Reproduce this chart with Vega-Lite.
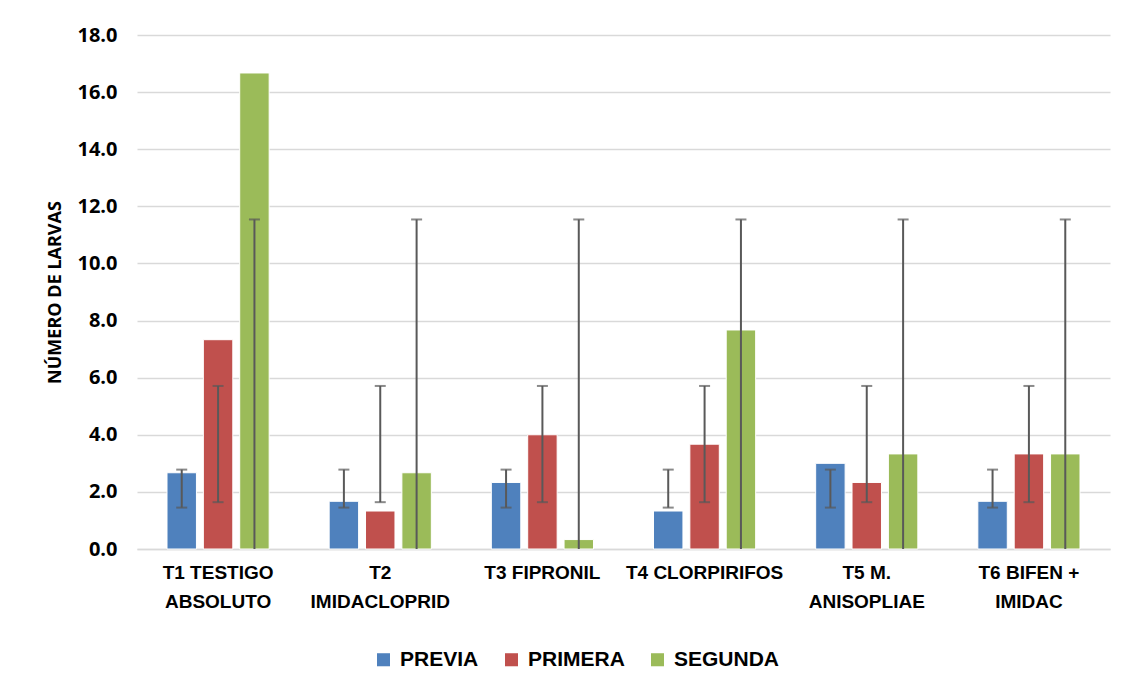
{
  "$schema": "https://vega.github.io/schema/vega-lite/v6.json",
  "width": 973,
  "height": 514,
  "autosize": "none",
  "padding": {"left": 137, "top": 35, "right": 31, "bottom": 141},
  "background": "white",
  "config": {"view": {"stroke": null}},
  "data": {
    "values": [
      {"trat": "T1  TESTIGO ABSOLUTO", "serie": "PREVIA", "valor": 2.67, "lo": 1.45, "hi": 2.78},
      {"trat": "T1  TESTIGO ABSOLUTO", "serie": "PRIMERA", "valor": 7.33, "lo": 1.64, "hi": 5.71},
      {"trat": "T1  TESTIGO ABSOLUTO", "serie": "SEGUNDA", "valor": 16.67, "lo": 0, "hi": 11.54},
      {"trat": "T2 IMIDACLOPRID", "serie": "PREVIA", "valor": 1.67, "lo": 1.45, "hi": 2.78},
      {"trat": "T2 IMIDACLOPRID", "serie": "PRIMERA", "valor": 1.33, "lo": 1.64, "hi": 5.71},
      {"trat": "T2 IMIDACLOPRID", "serie": "SEGUNDA", "valor": 2.67, "lo": 0, "hi": 11.54},
      {"trat": "T3 FIPRONIL", "serie": "PREVIA", "valor": 2.33, "lo": 1.45, "hi": 2.78},
      {"trat": "T3 FIPRONIL", "serie": "PRIMERA", "valor": 4.0, "lo": 1.64, "hi": 5.71},
      {"trat": "T3 FIPRONIL", "serie": "SEGUNDA", "valor": 0.33, "lo": 0, "hi": 11.54},
      {"trat": "T4 CLORPIRIFOS", "serie": "PREVIA", "valor": 1.33, "lo": 1.45, "hi": 2.78},
      {"trat": "T4 CLORPIRIFOS", "serie": "PRIMERA", "valor": 3.67, "lo": 1.64, "hi": 5.71},
      {"trat": "T4 CLORPIRIFOS", "serie": "SEGUNDA", "valor": 7.67, "lo": 0, "hi": 11.54},
      {"trat": "T5 M. ANISOPLIAE", "serie": "PREVIA", "valor": 3.0, "lo": 1.45, "hi": 2.78},
      {"trat": "T5 M. ANISOPLIAE", "serie": "PRIMERA", "valor": 2.33, "lo": 1.64, "hi": 5.71},
      {"trat": "T5 M. ANISOPLIAE", "serie": "SEGUNDA", "valor": 3.33, "lo": 0, "hi": 11.54},
      {"trat": "T6 BIFEN + IMIDAC", "serie": "PREVIA", "valor": 1.67, "lo": 1.45, "hi": 2.78},
      {"trat": "T6 BIFEN + IMIDAC", "serie": "PRIMERA", "valor": 3.33, "lo": 1.64, "hi": 5.71},
      {"trat": "T6 BIFEN + IMIDAC", "serie": "SEGUNDA", "valor": 3.33, "lo": 0, "hi": 11.54}
    ]
  },
  "encoding": {
    "x": {
      "field": "trat",
      "type": "nominal",
      "sort": null,
      "scale": {"paddingInner": 0.37, "paddingOuter": 0.185},
      "axis": {
        "title": null,
        "labelAngle": 0,
        "labelFont": "Liberation Sans Narrow, Liberation Sans",
        "labelFontSize": 19,
        "labelFontWeight": "bold",
        "labelColor": "#000000",
        "labelPadding": 14,
        "labelLineHeight": 29,
        "labelBaseline": "top",
        "ticks": false,
        "domainColor": "#d9d9d9",
        "domainWidth": 1.5,
        "grid": false,
        "labelExpr": "datum.value == 'T1  TESTIGO ABSOLUTO' ? ['T1  TESTIGO', 'ABSOLUTO'] : datum.value == 'T2 IMIDACLOPRID' ? ['T2', 'IMIDACLOPRID'] : datum.value == 'T5 M. ANISOPLIAE' ? ['T5 M.', 'ANISOPLIAE'] : datum.value == 'T6 BIFEN + IMIDAC' ? ['T6 BIFEN +', 'IMIDAC'] : datum.value"
      }
    },
    "xOffset": {
      "field": "serie",
      "type": "nominal",
      "sort": ["PREVIA", "PRIMERA", "SEGUNDA"],
      "scale": {"paddingInner": 0.19, "paddingOuter": 0}
    }
  },
  "layer": [
    {
      "mark": {"type": "bar", "stroke": "white", "strokeWidth": 1},
      "encoding": {
        "y": {
          "field": "valor",
          "type": "quantitative",
          "scale": {"domain": [0, 18]},
          "axis": {
            "values": [0, 2, 4, 6, 8, 10, 12, 14, 16, 18],
            "format": ".1f",
            "labelFont": "Open Sans",
            "labelFontSize": 20,
            "labelFontWeight": "bold",
            "labelColor": "#000000",
            "labelPadding": 20,
            "ticks": false,
            "domain": false,
            "gridColor": "#d9d9d9",
            "gridWidth": 1.5,
            "title": "NÚMERO DE LARVAS",
            "titleFont": "Open Sans",
            "titleFontSize": 18,
            "titleFontWeight": "bold",
            "titleColor": "#000000",
            "titlePadding": 12
          }
        },
        "color": {
          "field": "serie",
          "type": "nominal",
          "sort": ["PREVIA", "PRIMERA", "SEGUNDA"],
          "scale": {"domain": ["PREVIA", "PRIMERA", "SEGUNDA"], "range": ["#4F81BD", "#C0504D", "#9BBB59"]},
          "legend": {
            "title": null,
            "orient": "none",
            "direction": "horizontal",
            "legendX": 236,
            "legendY": 614,
            "symbolType": "square",
            "symbolSize": 170,
            "symbolStrokeWidth": 0,
            "labelFont": "Liberation Sans Narrow, Liberation Sans",
            "labelFontSize": 21,
            "labelFontWeight": "bold",
            "labelColor": "#000000",
            "columnPadding": 22,
            "labelOffset": 6
          }
        }
      }
    },
    {
      "mark": {"type": "rule", "color": "#595959", "strokeWidth": 2},
      "encoding": {
        "y": {"field": "lo", "type": "quantitative"},
        "y2": {"field": "hi"}
      }
    },
    {
      "mark": {"type": "tick", "color": "#595959", "thickness": 2, "size": 11},
      "encoding": {
        "y": {"field": "hi", "type": "quantitative"}
      }
    },
    {
      "transform": [{"filter": "datum.lo > 0"}],
      "mark": {"type": "tick", "color": "#595959", "thickness": 2, "size": 11},
      "encoding": {
        "y": {"field": "lo", "type": "quantitative"}
      }
    }
  ]
}
